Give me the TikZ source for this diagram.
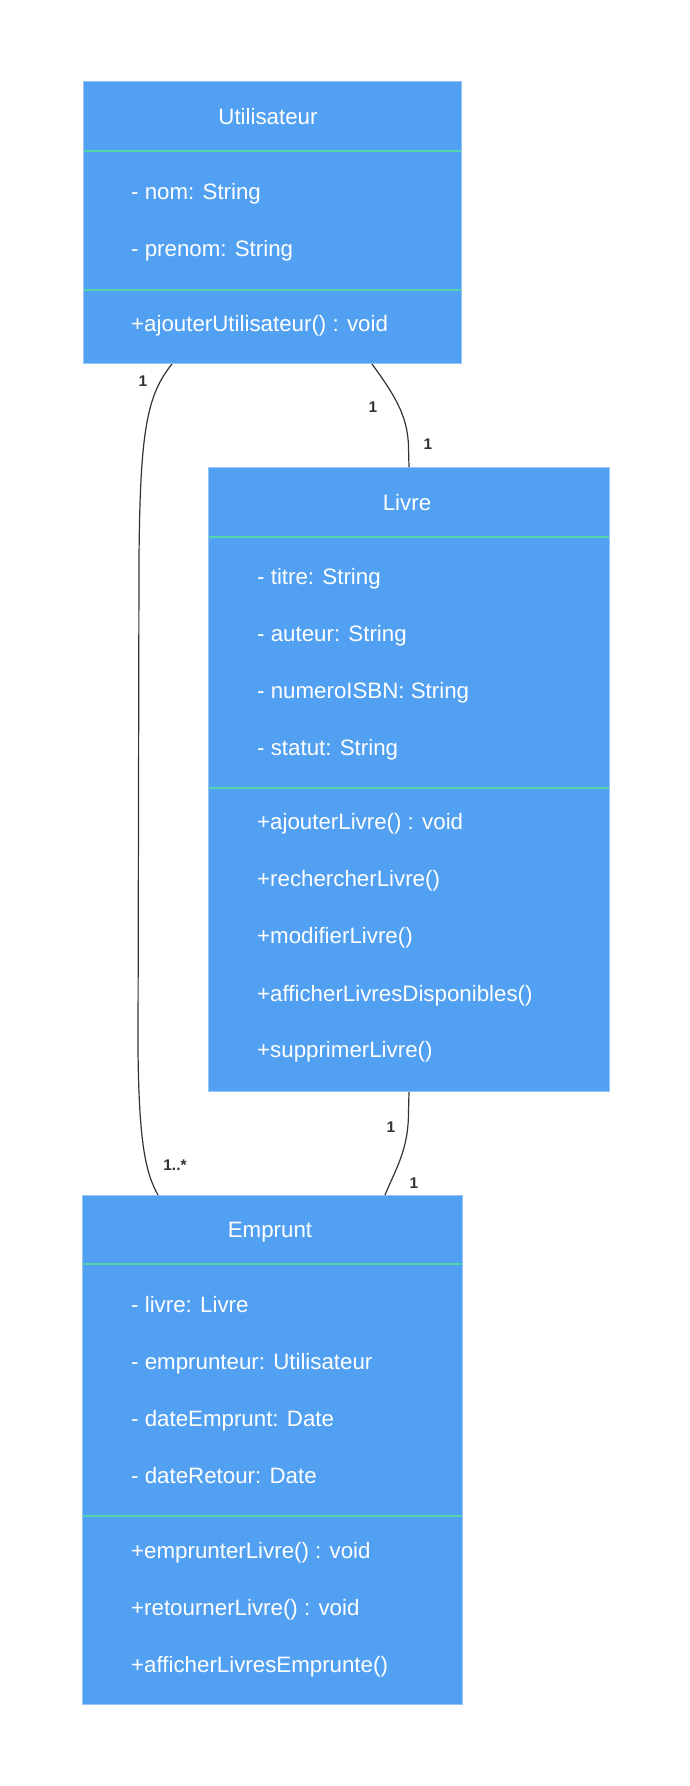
\documentclass[tikz,border=0pt]{standalone}
\usepackage{fontspec}
\setmainfont{Liberation Sans}
\definecolor{boxfill}{RGB}{82,160,242}
\definecolor{boxborder}{RGB}{150,196,246}
\definecolor{sepcol}{RGB}{84,212,172}
\definecolor{edgecol}{RGB}{51,51,51}
\tikzset{
  classbox/.style={draw=boxborder, line width=1pt, fill=boxfill, anchor=north west, inner sep=0pt, rectangle},
  seprule/.style={draw=sepcol, line width=1.4pt},
  titletext/.style={text=white, font=\fontsize{22.3}{26}\selectfont, anchor=base, inner sep=0pt},
  membertext/.style={text=white, font=\fontsize{22.3}{26}\selectfont, anchor=base west, inner sep=0pt},
  assoc/.style={draw=edgecol, line width=1.2pt},
  multlabel/.style={text=edgecol, font=\fontsize{15.5}{18}\selectfont\bfseries, inner sep=0pt}
}
\begin{document}
\begin{tikzpicture}[x=1pt,y=-1pt]
\useasboundingbox (0,0) rectangle (690,1786);
\fill[white] (0,0) rectangle (690,1786);

% ---------- Utilisateur ----------
\node[classbox, minimum width=378pt, minimum height=282pt] (u) at (83,81) {};
\draw[seprule] (83.5,151) -- (460.5,151);
\draw[seprule] (83.5,290) -- (460.5,290);
\node[titletext] (ut) at (268,124) {Utilisateur};
\node[membertext] (ua1) at (131,199) {- nom: String};
\node[membertext] (ua2) at (131,256) {- prenom: String};
\node[membertext] (um1) at (131,331) {+ajouterUtilisateur() : void};

% ---------- Livre ----------
\node[classbox, minimum width=401pt, minimum height=624pt] (l) at (208,467) {};
\draw[seprule] (208.5,537) -- (608.5,537);
\draw[seprule] (208.5,788) -- (608.5,788);
\node[titletext] (lt) at (407,510) {Livre};
\node[membertext] (la1) at (257,584) {- titre: String};
\node[membertext] (la2) at (257,641) {- auteur: String};
\node[membertext] (la3) at (257,698) {- numeroISBN: String};
\node[membertext] (la4) at (257,755) {- statut: String};
\node[membertext] (lm1) at (257,829) {+ajouterLivre() : void};
\node[membertext] (lm2) at (257,886) {+rechercherLivre()};
\node[membertext] (lm3) at (257,943) {+modifierLivre()};
\node[membertext] (lm4) at (257,1001) {+afficherLivresDisponibles()};
\node[membertext] (lm5) at (257,1057) {+supprimerLivre()};

% ---------- Emprunt ----------
\node[classbox, minimum width=380pt, minimum height=509pt] (e) at (82,1195) {};
\draw[seprule] (82.5,1264) -- (461.5,1264);
\draw[seprule] (82.5,1516) -- (461.5,1516);
\node[titletext] (et) at (270,1237) {Emprunt};
\node[membertext] (ea1) at (131,1312) {- livre: Livre};
\node[membertext] (ea2) at (131,1369) {- emprunteur: Utilisateur};
\node[membertext] (ea3) at (131,1426) {- dateEmprunt: Date};
\node[membertext] (ea4) at (131,1483) {- dateRetour: Date};
\node[membertext] (em1) at (131,1558) {+emprunterLivre() : void};
\node[membertext] (em2) at (131,1615) {+retournerLivre() : void};
\node[membertext] (em3) at (131,1672) {+afficherLivresEmprunte()};

% ---------- Associations ----------
% Utilisateur -- Emprunt
\draw[assoc] ([xshift=89pt]u.south west)
  .. controls (147,395) and (140,430) .. (139,560)
  -- (138,1050)
  .. controls (139,1140) and (145,1172) .. ([xshift=76pt]e.north west);
% Utilisateur -- Livre
\draw[assoc] ([xshift=289pt]u.south west)
  .. controls (393,393) and (408,415) .. (408.5,447)
  -- (l.north);
% Livre -- Emprunt
\draw[assoc] (l.south) -- (408.5,1112)
  .. controls (408.5,1150) and (396,1168) .. ([xshift=303pt]e.north west);

% ---------- Multiplicities ----------
\node[multlabel] (m1) at (143,381) {1};
\node[multlabel] (m2) at (373,407) {1};
\node[multlabel] (m3) at (428,444) {1};
\node[multlabel] (m4) at (175,1165) {1..*};
\node[multlabel] (m5) at (391,1127) {1};
\node[multlabel] (m6) at (414,1183) {1};
\end{tikzpicture}
\end{document}
